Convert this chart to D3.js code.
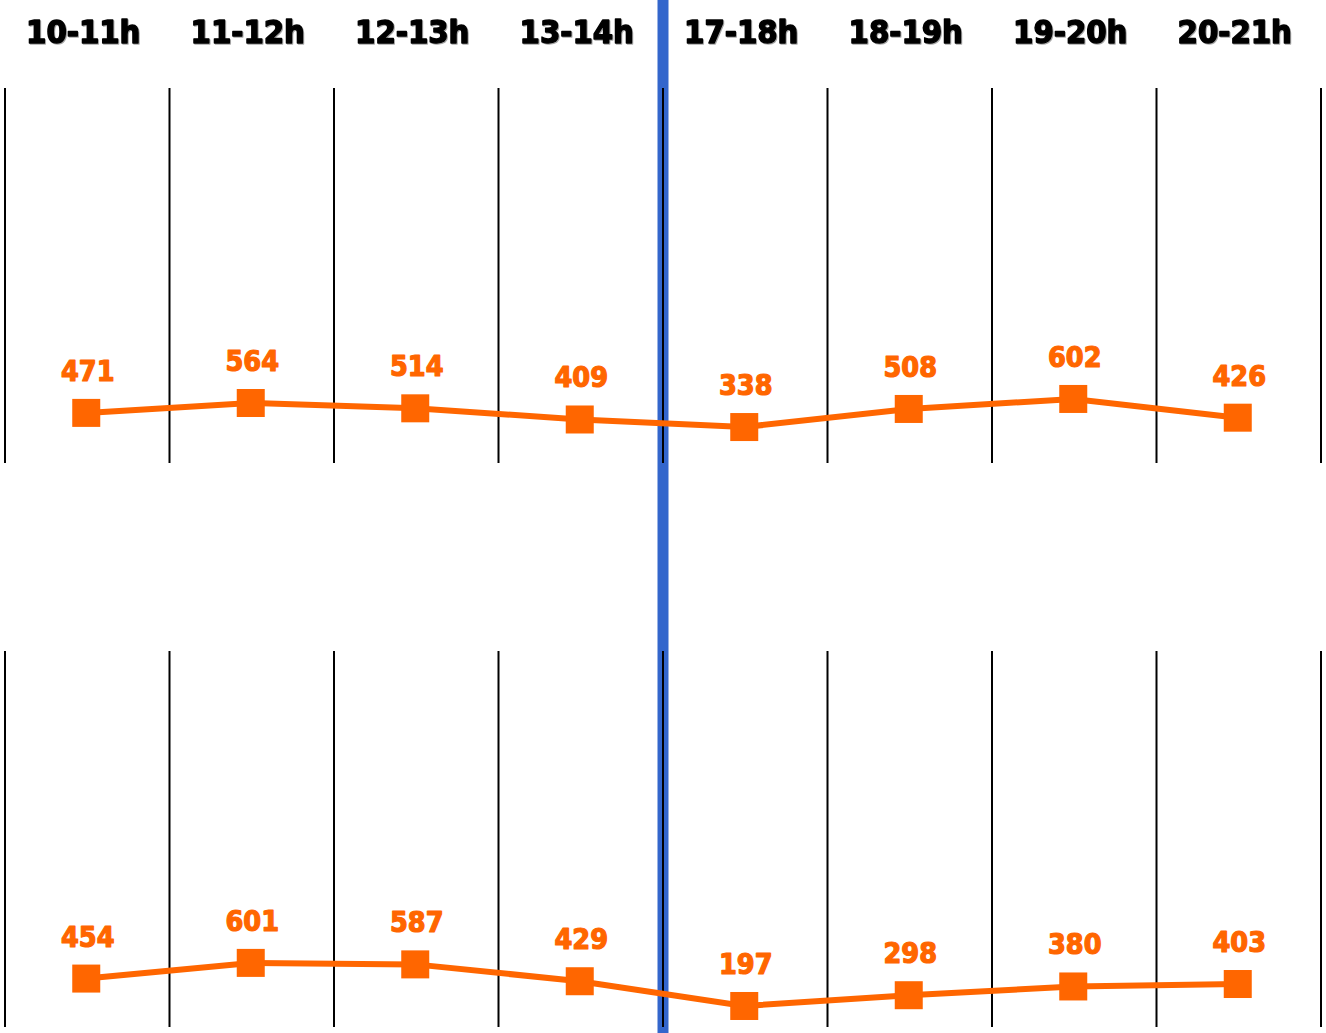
<!DOCTYPE html>
<html>
<head>
<meta charset="utf-8">
<script src="https://cdn.jsdelivr.net/npm/d3@7"></script>
<style>
  html, body { margin: 0; padding: 0; background: #fff; }
  svg { display: block; }
  text { font-family: "DejaVu Sans Condensed", "DejaVu Sans", sans-serif; font-stretch: condensed; font-weight: bold; }
</style>
</head>
<body>
<svg id="chart" width="1326" height="1033"></svg>
<script>
const categories = ["10-11h", "11-12h", "12-13h", "13-14h", "17-18h", "18-19h", "19-20h", "20-21h"];
const seriesTop = [471, 564, 514, 409, 338, 508, 602, 426];
const seriesBottom = [454, 601, 587, 429, 197, 298, 380, 403];

const W = 1326, H = 1033;
const svg = d3.select("#chart");
const orange = "#FF6600";

const x = d3.scaleBand().domain(categories).range([5, 1321]).padding(0);

const panels = [
  { values: seriesTop, top: 88, bottom: 463 },
  { values: seriesBottom, top: 651, bottom: 1027 }
];

// blue separator (drawn first, grid lines on top)
svg.append("rect")
  .attr("x", x(categories[4]) - 5.5)
  .attr("y", 0)
  .attr("width", 11)
  .attr("height", H)
  .attr("fill", "#3366CC");

// headers
svg.append("g")
  .style("filter", "drop-shadow(1px 1px 0.6px rgba(0,0,0,0.35))")
  .selectAll("text")
  .data(categories)
  .join("text")
  .attr("x", d => x(d) + x.bandwidth() / 2 - 4)
  .attr("y", 42.5)
  .attr("text-anchor", "middle")
  .attr("font-size", 32.5)
  .attr("fill", "#000")
  .attr("stroke", "#000")
  .attr("stroke-width", 1.4)
  .attr("stroke-linejoin", "round")
  .text(d => d);

panels.forEach(p => {
  const y = d3.scaleLinear().domain([0, 3525]).range([p.bottom, p.top]);
  const g = svg.append("g");

  // vertical grid lines
  const bounds = categories.map(c => x(c)).concat([x(categories[categories.length - 1]) + x.bandwidth()]);
  g.selectAll("line.grid")
    .data(bounds)
    .join("line")
    .attr("class", "grid")
    .attr("x1", d => d).attr("x2", d => d)
    .attr("y1", p.top).attr("y2", p.bottom)
    .attr("stroke", "#000")
    .attr("stroke-width", 2);

  const data = categories.map((c, i) => ({ c, v: p.values[i] }));
  const cx = d => x(d.c) + x.bandwidth() / 2 - 1;

  g.append("path")
    .datum(data)
    .attr("fill", "none")
    .attr("stroke", orange)
    .attr("stroke-width", 6)
    .attr("d", d3.line().x(cx).y(d => y(d.v)));

  const s = 28;
  g.selectAll("rect.marker")
    .data(data)
    .join("rect")
    .attr("class", "marker")
    .attr("x", d => cx(d) - s / 2)
    .attr("y", d => y(d.v) - s / 2)
    .attr("width", s)
    .attr("height", s)
    .attr("fill", orange);

  g.selectAll("text.lbl")
    .data(data)
    .join("text")
    .attr("class", "lbl")
    .attr("x", d => cx(d) + 1.5)
    .attr("y", d => y(d.v) - 32)
    .attr("text-anchor", "middle")
    .attr("font-size", 28.5)
    .attr("fill", orange)
    .attr("stroke", orange)
    .attr("stroke-width", 1.2)
    .attr("stroke-linejoin", "round")
    .text(d => d.v);
});
</script>
</body>
</html>
